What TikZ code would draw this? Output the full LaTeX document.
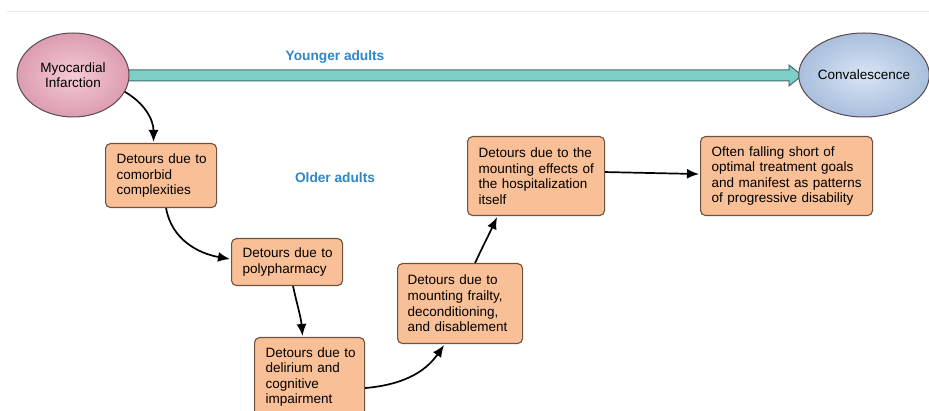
\documentclass[tikz,border=0pt]{standalone}
\usepackage{fontspec}
\setmainfont{Liberation Sans}
\usetikzlibrary{arrows.meta,calc,shapes.geometric}
\definecolor{boxfill}{HTML}{F9BF96}
\definecolor{boxline}{HTML}{6E5240}
\definecolor{pinkin}{HTML}{F4CAD4}
\definecolor{pinkout}{HTML}{DC9DB0}
\definecolor{bluein}{HTML}{D8E4F3}
\definecolor{blueout}{HTML}{A9BFDD}
\definecolor{tealfill}{HTML}{7FCFC9}
\definecolor{tealline}{HTML}{3F6E6C}
\definecolor{labelblue}{HTML}{2F86C8}
\definecolor{ellline}{HTML}{5A4A50}
\tikzset{
  x=1pt, y=-1pt,
  txt/.style={font=\fontsize{13.5}{15.6}\selectfont},
  detour/.style={txt, draw=boxline, fill=boxfill, line width=1.1pt, rounded corners=5pt,
    align=left, inner xsep=8pt, inner ysep=0pt, anchor=north west},
  oval/.style={txt, ellipse, draw=ellline, line width=1pt, align=center, inner sep=0pt},
  flow/.style={-{Latex[length=12pt,width=10pt]}, line width=1.7pt, black},
  grp/.style={font=\fontsize{13.7}{16}\selectfont\bfseries, text=labelblue}
}
\begin{document}
\begin{tikzpicture}
\clip (0,0) rectangle (929,411);
\fill[white] (0,0) rectangle (929,411);
\draw[black!8, line width=0.8pt] (7,11) -- (929,11);

% big teal arrow
\draw[tealline, fill=tealfill, line width=1pt, line join=miter]
  (110,70) -- (789,70) -- (789,65) -- (802,75.5) -- (789,86) -- (789,81) -- (110,81) -- cycle;

\node[oval, minimum width=112pt, minimum height=84pt, inner color=pinkin, outer color=pinkout]
  (mi) at (73,75) {Myocardial\\Infarction};
\node[oval, minimum width=114pt, minimum height=84pt, inner color=bluein, outer color=blueout]
  (conv) at (864,75) {Convalescence};

\node[grp] (young) at (335,57) {Younger adults};
\node[grp] (old) at (335,178) {Older adults};

\node[detour, text width=95pt, minimum height=64pt] (b1) at (105,143)
  {\hspace*{3pt}Detours due to\\\hspace*{3pt}comorbid\\\hspace*{3pt}complexities};
\node[detour, text width=95pt, minimum height=47pt] (b2) at (231,238)
  {\hspace*{3pt}Detours due to\\\hspace*{3pt}polypharmacy};
\node[detour, text width=94pt, minimum height=79pt] (b3) at (254,337)
  {\hspace*{3pt}Detours due to\\\hspace*{3pt}delirium and\\\hspace*{3pt}cognitive\\\hspace*{3pt}impairment};
\node[detour, text width=109pt, minimum height=80pt] (b4) at (397,263)
  {\hspace*{2pt}Detours due to\\\hspace*{2pt}mounting frailty,\\\hspace*{2pt}deconditioning,\\\hspace*{2pt}and disablement};
\node[detour, text width=121pt, minimum height=79pt] (b5) at (467,136)
  {\hspace*{3pt}Detours due to the\\\hspace*{3pt}mounting effects of\\\hspace*{3pt}the hospitalization\\\hspace*{3pt}itself};
\node[detour, text width=156pt, minimum height=79pt] (b6) at (700,136)
  {\hspace*{3pt}Often falling short of\\\hspace*{3pt}optimal treatment goals\\\hspace*{3pt}and manifest as patterns\\\hspace*{3pt}of progressive disability};

\draw[flow] (mi.-18) to[out=-30,in=90] ($(b1.north)+(-7.5,-1)$);
\draw[flow] ($(b1.south)+(5,0)$) to[out=-80,in=170] ($(b2.west)+(-1,-3)$);
\draw[flow] ($(b2.south)+(6,0)$) to[out=-78,in=95] ($(b3.north)+(-7,-1)$);
\draw[flow] ($(b3.east)+(0,11)$) to[out=5,in=-125] ($(b4.south)+(-16,1)$);
\draw[flow] ($(b4.north)+(15,0)$) to[out=65,in=-115] ($(b5.south)+(-39,1)$);
\draw[flow] ($(b5.east)+(0,-4)$) -- ($(b6.west)+(-1,-2)$);
\end{tikzpicture}
\end{document}
